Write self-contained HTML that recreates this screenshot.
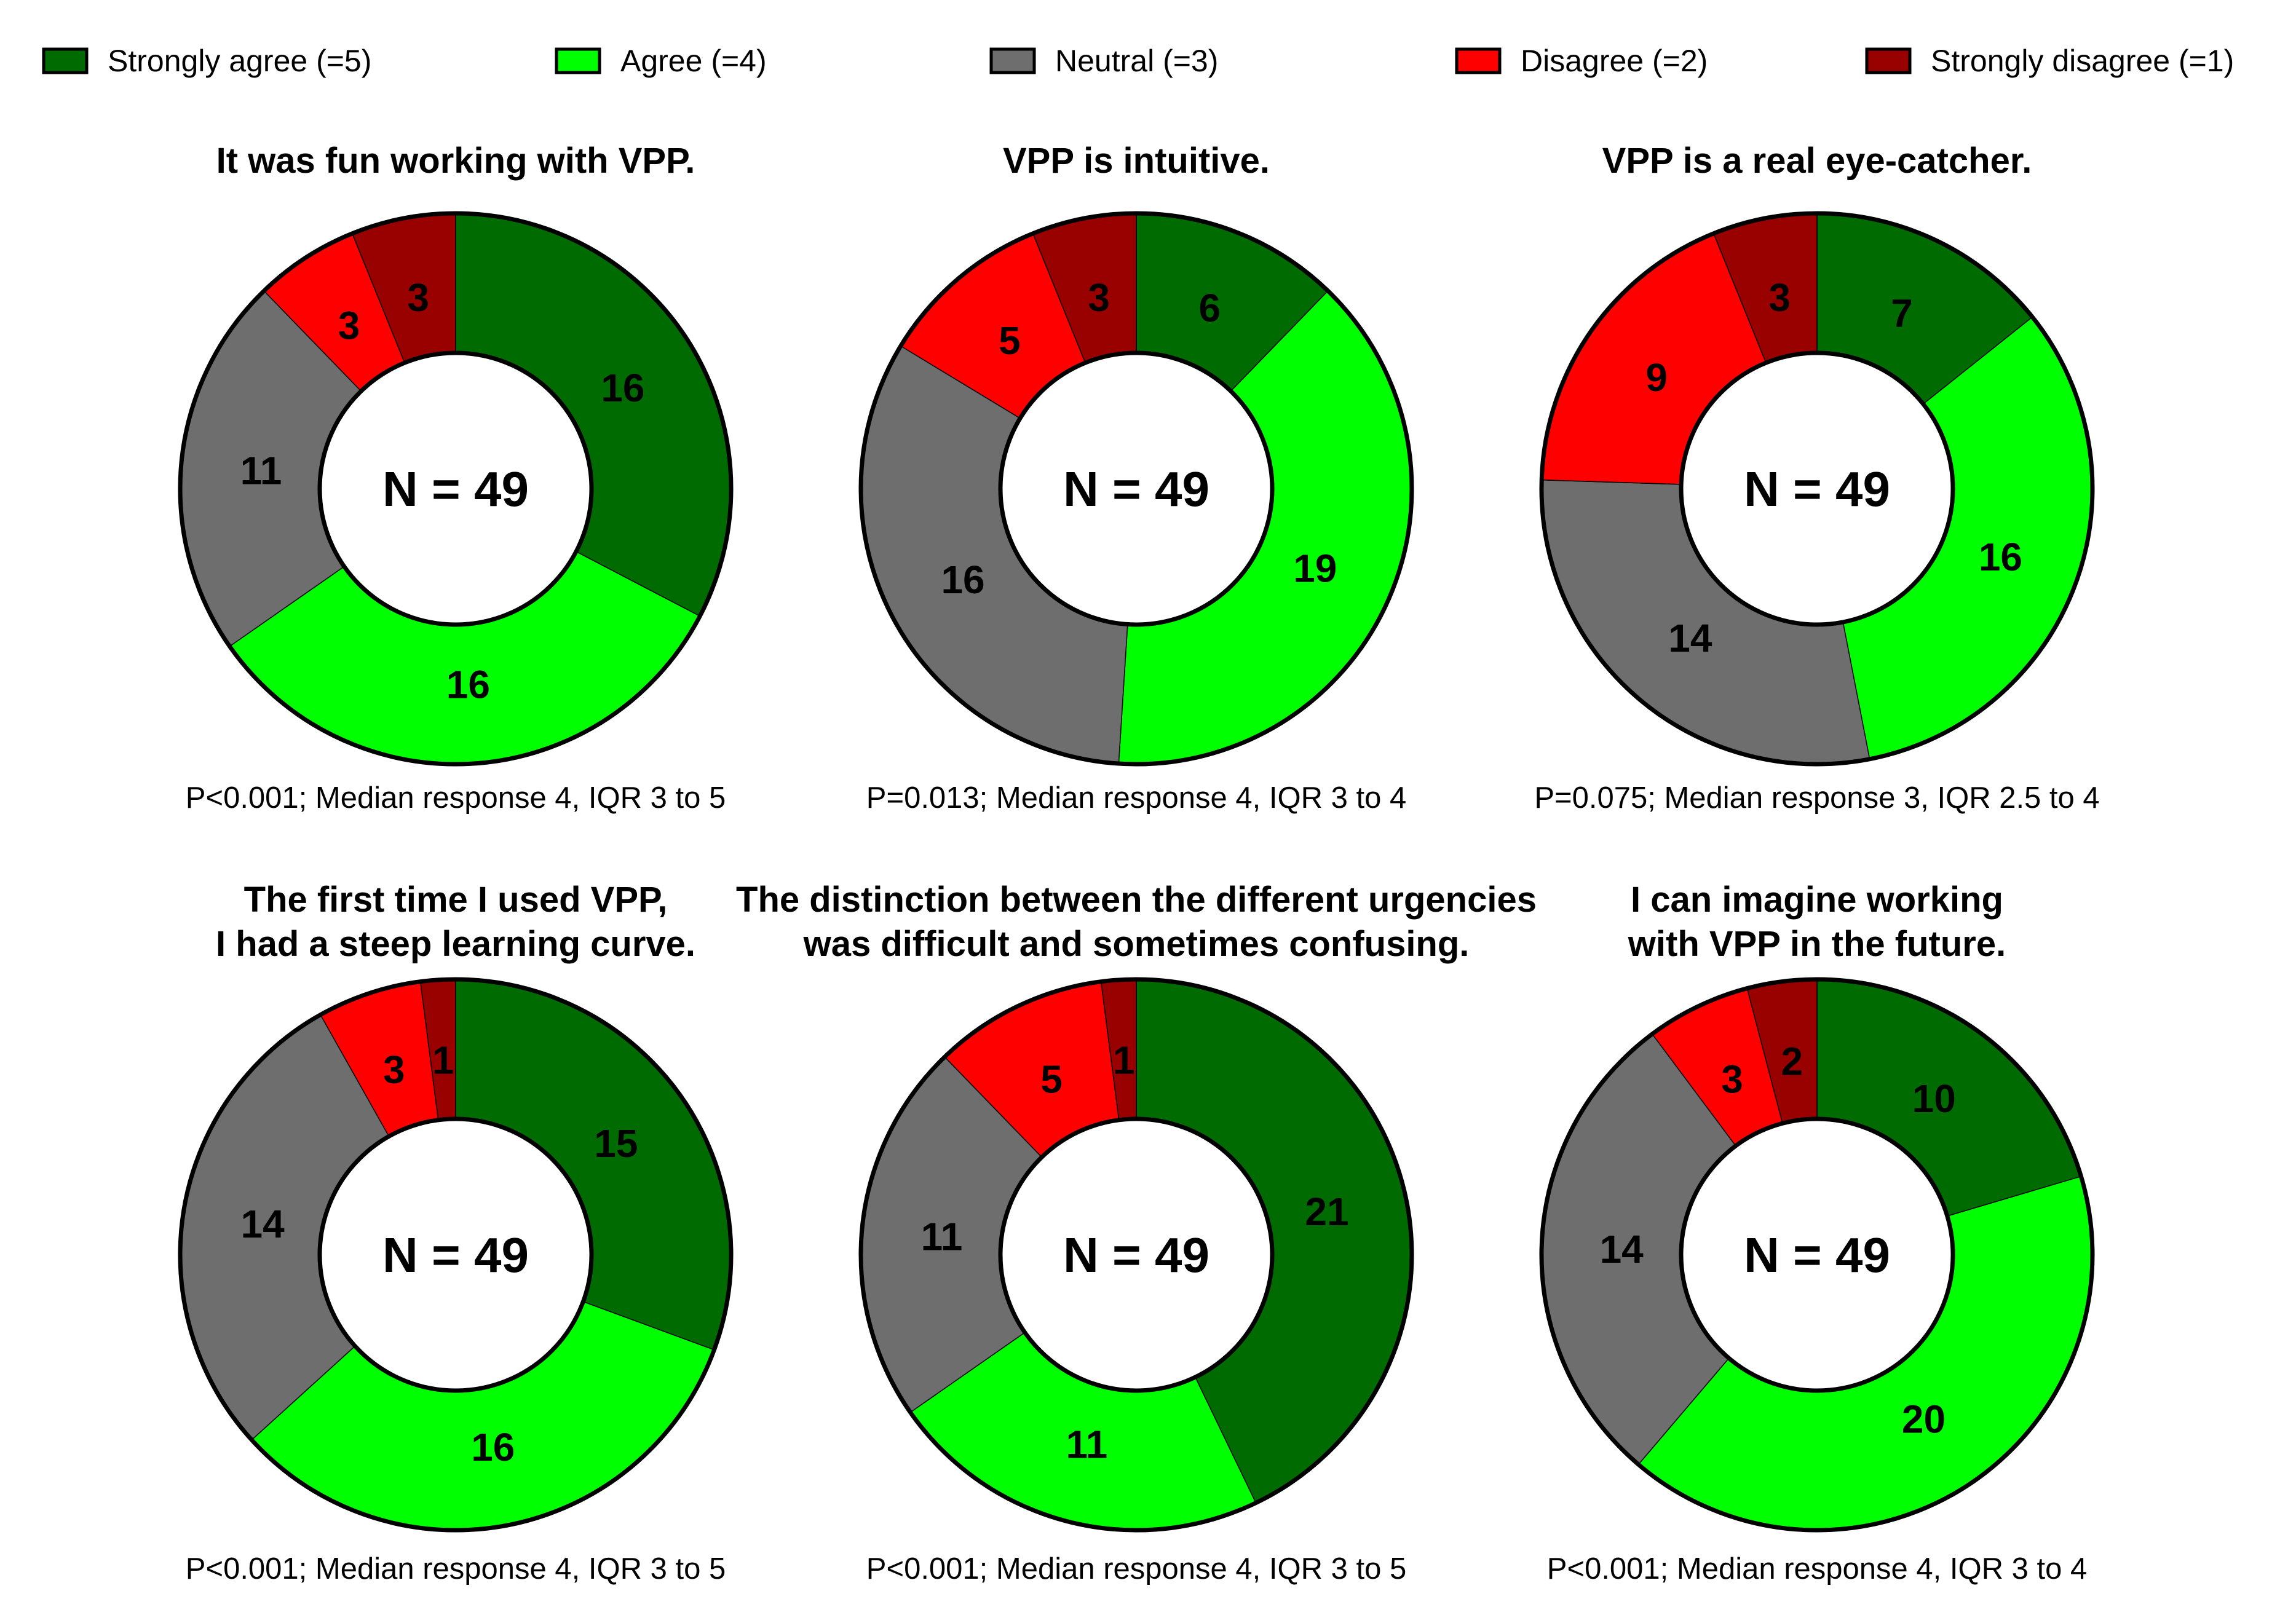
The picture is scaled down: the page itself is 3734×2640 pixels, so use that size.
<!DOCTYPE html>
<html><head><meta charset="utf-8"><style>
html,body{margin:0;padding:0;background:#fff;}
svg{display:block;font-family:"Liberation Sans",Arial,sans-serif;}
</style></head><body>
<svg id="chart" width="3734" height="2640" viewBox="0 0 3734 2640" xmlns="http://www.w3.org/2000/svg">
<rect width="3734" height="2640" fill="#fff"/>
<g id="legend"></g>
<g id="plots"></g>
</svg>
<script>
const categories = ["Strongly agree (=5)","Agree (=4)","Neutral (=3)","Disagree (=2)","Strongly disagree (=1)"];
const colors = ["#006b00","#00ff00","#6e6e6e","#ff0000","#990000"];
const titles = [
 ["It was fun working with VPP."],
 ["VPP is intuitive."],
 ["VPP is a real eye-catcher."],
 ["The first time I used VPP,","I had a steep learning curve."],
 ["The distinction between the different urgencies","was difficult and sometimes confusing."],
 ["I can imagine working","with VPP in the future."]
];
const values1 = [16,16,11,3,3];
const values2 = [6,19,16,5,3];
const values3 = [7,16,14,9,3];
const values4 = [15,16,14,3,1];
const values5 = [21,11,11,5,1];
const values6 = [10,20,14,3,2];
const seriesValues = [values1,values2,values3,values4,values5,values6];
const footnotes = [
 "P<0.001; Median response 4, IQR 3 to 5",
 "P=0.013; Median response 4, IQR 3 to 4",
 "P=0.075; Median response 3, IQR 2.5 to 4",
 "P<0.001; Median response 4, IQR 3 to 5",
 "P<0.001; Median response 4, IQR 3 to 5",
 "P<0.001; Median response 4, IQR 3 to 4"
];
const NS="http://www.w3.org/2000/svg";
function mk(tag,attrs,parent){const e=document.createElementNS(NS,tag);for(const k in attrs)e.setAttribute(k,attrs[k]);parent.appendChild(e);return e;}
const lg=document.getElementById('legend');
const legX=[71,905,1612,2369,3036];
categories.forEach((c,i)=>{
 const g=mk('g',{},lg);
 
 
 mk('rect',{x:legX[i],y:80,width:70,height:38,fill:colors[i],stroke:'#000','stroke-width':5},g);
 const t=mk('text',{x:legX[i]+104,y:116,'font-size':50,fill:'#000'},g);t.textContent=c;
});
const plots=document.getElementById('plots');
const cxs=[741,1848,2955], cys=[795,2041];
const R=448, r=221, rl=318;
function pt(cx,cy,rad,a){return [cx+rad*Math.sin(a), cy-rad*Math.cos(a)];}
seriesValues.forEach((vals,k)=>{
 const cx=cxs[k%3], cy=cys[Math.floor(k/3)];
 const g=mk('g',{},plots);
 
 
 const total=vals.reduce((a,b)=>a+b,0);
 let acc=0;
 vals.forEach((v,i)=>{
  const a0=acc/total*2*Math.PI, a1=(acc+v)/total*2*Math.PI; acc+=v;
  const [x0,y0]=pt(cx,cy,R,a0),[x1,y1]=pt(cx,cy,R,a1),[x2,y2]=pt(cx,cy,r,a1),[x3,y3]=pt(cx,cy,r,a0);
  const large=(a1-a0)>Math.PI?1:0;
  const p=mk('path',{d:`M${x0},${y0} A${R},${R} 0 ${large} 1 ${x1},${y1} L${x2},${y2} A${r},${r} 0 ${large} 0 ${x3},${y3} Z`,fill:colors[i],stroke:'#000','stroke-width':1.5},g);
  
  
  const am=(a0+a1)/2; const [lx,ly]=pt(cx,cy,rl,am);
  const t=mk('text',{x:lx,y:ly+23,'font-size':64,'font-weight':'bold','text-anchor':'middle',fill:'#000'},g);
  t.textContent=v;
  
  
 });
 mk('circle',{cx:cx,cy:cy,r:R,fill:'none',stroke:'#000','stroke-width':7},g);
 mk('circle',{cx:cx,cy:cy,r:r,fill:'#fff',stroke:'#000','stroke-width':7},g);
 const n=mk('text',{x:cx,y:cy+28,'font-size':80,'font-weight':'bold','text-anchor':'middle',fill:'#000'},g);
 n.textContent='N = '+total;
 
 
 const lines=titles[k];
 const tBase = k<3 ? 281 : 1483;
 lines.forEach((ln,j)=>{
  const y = k<3 ? tBase : tBase + j*72;
  const t=mk('text',{x:cx,y:y,'font-size':58,'font-weight':'bold','text-anchor':'middle',fill:'#000'},g);
  t.textContent=ln;
  
  
 });
 const f=mk('text',{x:cx,y:k<3?1314:2568,'font-size':49,'text-anchor':'middle',fill:'#000'},g);
 f.textContent=footnotes[k];
 
 
});
</script>
</body></html>
